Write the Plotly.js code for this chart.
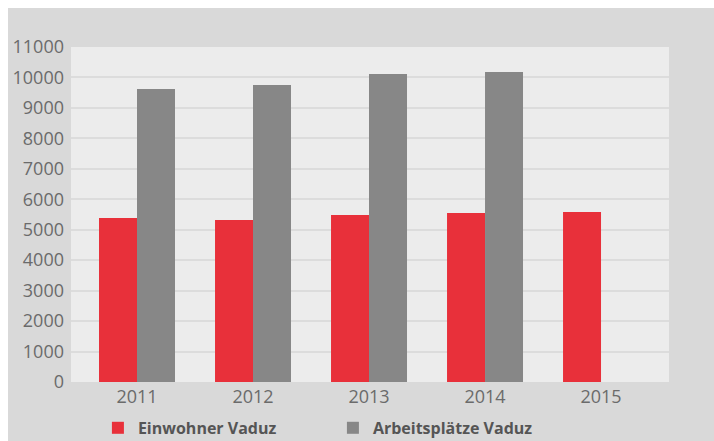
<!DOCTYPE html>
<html>
<head>
<meta charset="utf-8">
<script src="https://cdn.plot.ly/plotly-3.0.1.min.js"></script>
<style>
html, body { margin: 0; padding: 0; background: #ffffff; width: 714px; height: 441px; overflow: hidden; }
#chart { position: absolute; left: 8px; top: 8px; width: 706px; height: 480px; }
</style>
</head>
<body>
<div id="chart"></div>
<script>
const years = ["2011", "2012", "2013", "2014", "2015"];
const einwohner = [5387, 5322, 5486, 5551, 5584];
const arbeitsplaetze = [9619, 9751, 10111, 10177, null];
const seriesNames = ["Einwohner Vaduz", "Arbeitsplätze Vaduz"];
const yTicks = [0, 1000, 2000, 3000, 4000, 5000, 6000, 7000, 8000, 9000, 10000, 11000];

const data = [
  { type: "bar", x: years, y: einwohner, name: seriesNames[0], marker: { color: "#e8303a" }, hoverinfo: "x+y" },
  { type: "bar", x: years, y: arbeitsplaetze, name: seriesNames[1], marker: { color: "#878787" }, hoverinfo: "x+y" }
];

const layout = {
  width: 706, height: 480,
  margin: { l: 63, r: 45, t: 39, b: 106 },
  paper_bgcolor: "#d9d9d9",
  plot_bgcolor: "#ececec",
  barmode: "group",
  bargap: 0.345,
  bargroupgap: 0,
  font: { family: "Open Sans, sans-serif", color: "#6b6b6b", size: 18 },
  xaxis: {
    type: "category",
    range: [-0.569, 4.586],
    showgrid: false, zeroline: false, showline: false,
    ticks: "", ticklabelstandoff: 2,
    tickfont: { size: 18, color: "#6b6b6b" }
  },
  yaxis: {
    range: [0, 11000],
    tickvals: yTicks,
    ticktext: yTicks.map(String),
    showgrid: true, gridcolor: "#dcdcdc", gridwidth: 2,
    zeroline: false, showline: false,
    ticks: "", ticklabelstandoff: 6,
    tickfont: { size: 18, color: "#6b6b6b" }
  },
  showlegend: true,
  legend: {
    orientation: "h",
    x: 0.045, xanchor: "left",
    y: -0.137, yanchor: "middle",
    bgcolor: "rgba(0,0,0,0)",
    font: { family: "Open Sans, sans-serif", size: 16, color: "#555555", weight: "bold" },
    entrywidth: 190, entrywidthmode: "pixels",
    traceorder: "normal"
  }
};

Plotly.newPlot("chart", data, layout, { displayModeBar: false, staticPlot: true });
</script>
</body>
</html>
